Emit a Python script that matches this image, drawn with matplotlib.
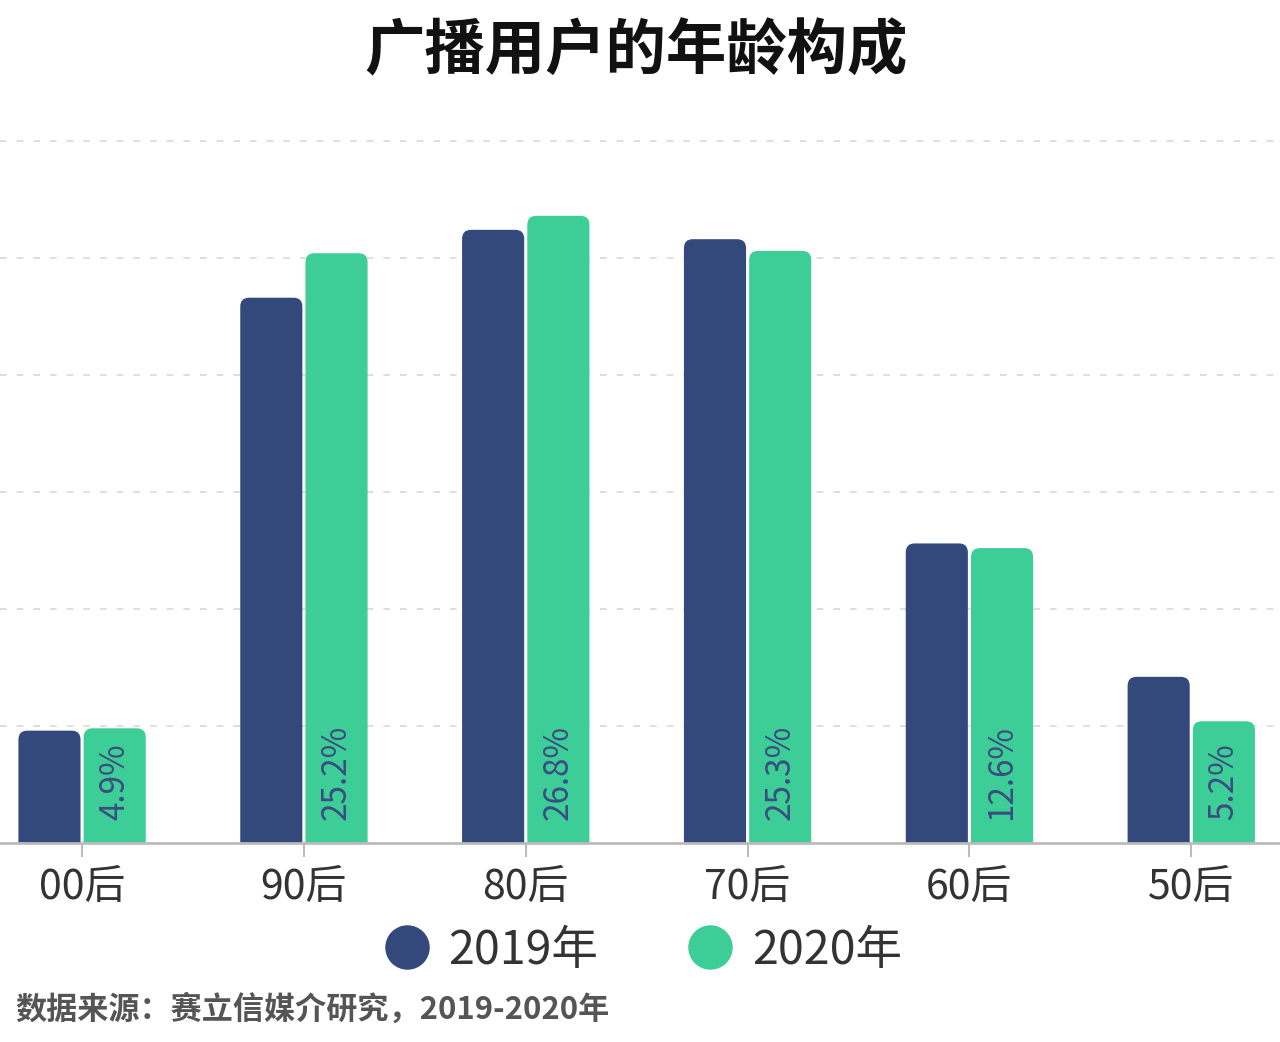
import numpy as np
import matplotlib
matplotlib.use("Agg")
import matplotlib.pyplot as plt
from matplotlib.patches import FancyBboxPatch
from matplotlib.lines import Line2D

plt.rcParams['font.family'] = ['Noto Sans CJK SC', 'DejaVu Sans']

## data
categories = ['00后', '90后', '80后', '70后', '60后', '50后']
vals_2019 = [4.8, 23.3, 26.2, 25.8, 12.8, 7.1]
vals_2020 = [4.9, 25.2, 26.8, 25.3, 12.6, 5.2]
series_names = ['2019年', '2020年']

navy = '#33497c'
green = '#3dcd96'

fig = plt.figure(figsize=(12.8, 10.42), dpi=100)
ax = fig.add_axes([0.0, 0.191, 1.0, 0.685])

x = np.arange(len(categories))
w = 0.28
gap = 0.007

bars1 = ax.bar(x - w/2 - gap, vals_2019, w, color=navy)
bars2 = ax.bar(x + w/2 + gap, vals_2020, w, color=green)

# swap plain rects for rounded-top ones (bottom sunk under the axis)
aspect = (1 / 23.37) / (1 / 222.0)
for bars, col in ((bars1, navy), (bars2, green)):
    for r in bars:
        r.set_visible(False)
        p = FancyBboxPatch((r.get_x(), -1.0), r.get_width(), r.get_height() + 1.0,
                           boxstyle="round,pad=0,rounding_size=0.04",
                           mutation_aspect=aspect, facecolor=col, edgecolor='none')
        ax.add_patch(p)

# value labels on 2020 bars only
for xi, v in zip(x + w/2 + gap, vals_2020):
    ax.text(xi, 1.0, f'{v}%', rotation=90, ha='center', va='bottom',
            fontsize=24, color='#3a4d80')

ax.set_xlim(-0.37, 5.40)
ax.set_ylim(0, 30.5)
ax.set_yticks([5, 10, 15, 20, 25, 30])
ax.yaxis.grid(True, linestyle=(0, (4, 6)), color='#d9d9d9', linewidth=1.2)
ax.set_axisbelow(True)
ax.tick_params(axis='y', left=False, labelleft=False)
ax.set_xticks(x)
ax.set_xticklabels(categories, fontsize=29.5, color='#333333')
ax.tick_params(axis='x', length=10, width=1.5, color='#bbbbbb', pad=7)
for s in ['top', 'right', 'left']:
    ax.spines[s].set_visible(False)
ax.spines['bottom'].set_color('#bbbbbb')
ax.spines['bottom'].set_linewidth(2)

fig.text(0.497, 0.95, '广播用户的年龄构成', ha='center', va='center',
         fontsize=43.5, fontweight='bold', color='#111111')

handles = [Line2D([], [], marker='o', linestyle='none', markersize=31, color=navy),
           Line2D([], [], marker='o', linestyle='none', markersize=31, color=green)]
fig.legend(handles, series_names, loc='center', bbox_to_anchor=(0.502, 0.088), ncol=2,
           frameon=False, fontsize=33.5, handlelength=1.0, handletextpad=0.4,
           columnspacing=1.9, labelcolor='#333333')

fig.text(0.012, 0.031, '数据来源：赛立信媒介研究，2019-2020年', fontsize=22.4,
         color='#555555', fontweight='bold', ha='left', va='center')

fig.savefig('out.png', dpi=100, facecolor='white')
